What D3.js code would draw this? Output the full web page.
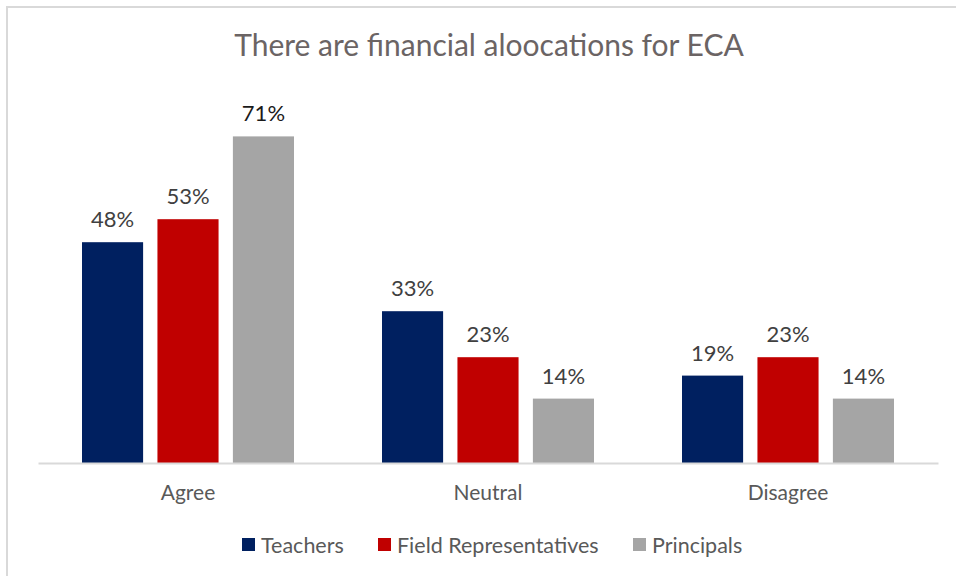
<!DOCTYPE html>
<html>
<head>
<meta charset="utf-8">
<script src="https://cdn.jsdelivr.net/npm/d3@7"></script>
<style>
  html, body { margin: 0; padding: 0; background: #fff; }
  svg { display: block; font-family: "Lato", "Open Sans", sans-serif; }
</style>
</head>
<body>
<svg id="chart" width="956" height="576"></svg>
<script>
// Survey responses: "There are financial aloocations for ECA"
const categories = ["Agree", "Neutral", "Disagree"];
const seriesNames = ["Teachers", "Field Representatives", "Principals"];
const teachers = [0.48, 0.33, 0.19];
const fieldReps = [0.53, 0.23, 0.23];
const principals = [0.71, 0.14, 0.14];
const seriesColors = ["#002060", "#c00000", "#a5a5a5"];
const titleText = "There are financial aloocations for ECA";

const seriesValues = [teachers, fieldReps, principals];
const rows = categories.map((c, i) => ({
  category: c,
  values: seriesNames.map((s, j) => ({ series: s, idx: j, value: seriesValues[j][i] }))
}));

const svg = d3.select("#chart");
const W = 956, H = 576;

// outer chart frame
svg.append("rect")
  .attr("x", 7).attr("y", 7)
  .attr("width", W + 10).attr("height", H + 10)
  .attr("fill", "none").attr("stroke", "#d9d9d9").attr("stroke-width", 2);

const plot = { left: 38, right: 938, top: 95, bottom: 463 };

const x0 = d3.scaleBand().domain(categories).range([plot.left, plot.right]).paddingInner(0).paddingOuter(0);
const x1 = d3.scaleBand().domain(seriesNames).range([44, 300 - 44]).paddingInner(0.19).paddingOuter(0);
const y = d3.scaleLinear().domain([0, 0.8]).range([plot.bottom, plot.top]);

// title
svg.append("text")
  .attr("x", (plot.left + plot.right) / 2 + 1).attr("y", 56)
  .attr("text-anchor", "middle")
  .attr("font-size", 30).attr("fill", "#6b6464")
  .text(titleText);

const groups = svg.append("g").selectAll("g")
  .data(rows).join("g")
  .attr("transform", d => `translate(${x0(d.category)},0)`);

groups.selectAll("rect")
  .data(d => d.values).join("rect")
  .attr("x", d => x1(d.series))
  .attr("y", d => y(d.value))
  .attr("width", x1.bandwidth())
  .attr("height", d => y(0) - y(d.value))
  .attr("fill", d => seriesColors[d.idx]);

groups.selectAll("text.val")
  .data(d => d.values).join("text")
  .attr("class", "val")
  .attr("x", d => x1(d.series) + x1.bandwidth() / 2)
  .attr("y", d => y(d.value) - 15)
  .attr("text-anchor", "middle")
  .attr("font-size", 22)
  .attr("fill", d => d.idx === 2 && d.value > 0.5 ? "#1a1a1a" : "#404040")
  .text(d => d3.format(".0%")(d.value));

// category axis
const xAxis = svg.append("g")
  .attr("transform", `translate(0,${plot.bottom})`)
  .call(d3.axisBottom(x0).tickSize(0).tickPadding(22));
xAxis.select(".domain").attr("stroke", "#d9d9d9").attr("stroke-width", 2);
xAxis.selectAll("text")
  .attr("font-size", 21).attr("fill", "#595959")
  .attr("font-family", "Lato, 'Open Sans', sans-serif");

// legend
const legendItems = [
  { name: seriesNames[0], x: 242 },
  { name: seriesNames[1], x: 378 },
  { name: seriesNames[2], x: 633 }
];
const legend = svg.append("g").selectAll("g")
  .data(legendItems).join("g")
  .attr("transform", d => `translate(${d.x},545)`);
legend.append("rect")
  .attr("x", 0).attr("y", -7).attr("width", 13).attr("height", 13)
  .attr("fill", (d, i) => seriesColors[i]);
legend.append("text")
  .attr("x", 19).attr("y", 0).attr("dy", "0.35em")
  .attr("font-size", 21.5).attr("fill", "#595959")
  .text(d => d.name);
</script>
</body>
</html>
